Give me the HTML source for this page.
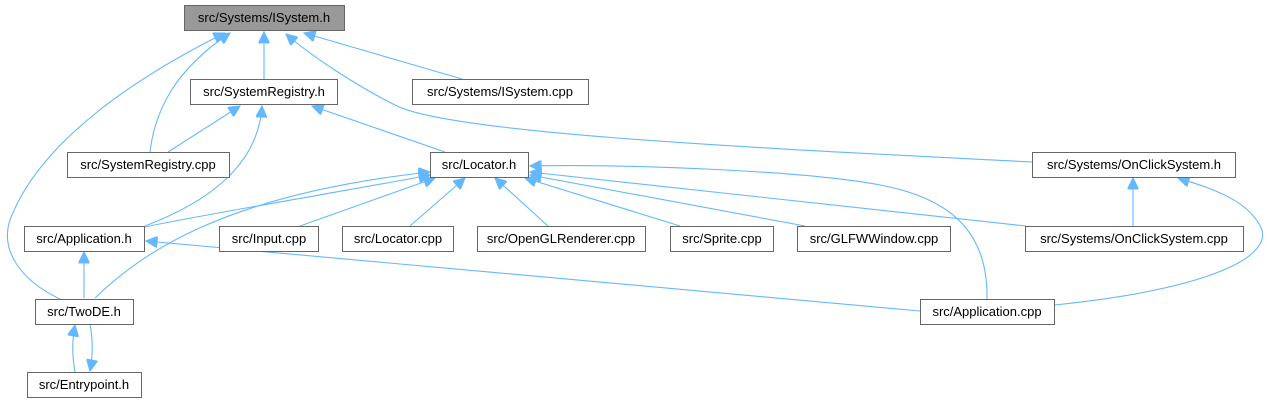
<!DOCTYPE html>
<html><head><meta charset="utf-8"><style>
html,body{margin:0;padding:0;background:#fff;}
svg{display:block;}
text{font-family:"Liberation Sans",Helvetica,sans-serif;font-size:13px;fill:#000;}
</style></head><body>
<svg width="1267" height="403" viewBox="0 0 1267 403" xmlns="http://www.w3.org/2000/svg">
<defs>
<marker id="a" viewBox="0 0 10 10" refX="10" refY="5" markerWidth="13" markerHeight="11" markerUnits="userSpaceOnUse" orient="auto">
<path d="M0,0 L10,5 L0,10 z" fill="#63b8ff" stroke="#63b8ff"/>
</marker>
</defs>
<g fill="none" stroke="#63b8ff" stroke-width="1.1" marker-end="url(#a)">
<path d="M264,79 L264,32"/>
<path d="M462,79 L304,33"/>
<path d="M150,152 C155,110 175,70 230,33"/>
<path d="M60,299 C20,280 0,250 10,220 C40,140 140,75 225,33"/>
<path d="M1032,162 C800,150 450,135 395,105 C355,85 310,55 286,34"/>
<path d="M168,152 L240,106"/>
<path d="M145,226 C200,205 258,170 262,106"/>
<path d="M445,152 L312,106"/>
<path d="M145,227 C200,215 380,185 430,175"/>
<path d="M95,298 C140,255 220,195 430,172"/>
<path d="M300,226 L435,178"/>
<path d="M410,226 L465,178"/>
<path d="M548,226 L495,178"/>
<path d="M680,226 L525,178"/>
<path d="M805,226 L530,175"/>
<path d="M1026,226 L530,172"/>
<path d="M987,299 C988,240 960,200 880,185 C800,170 620,164 530,166"/>
<path d="M84,298 L84,252"/>
<path d="M920,311 L146,241"/>
<path d="M1133,226 L1133,178"/>
<path d="M1054,305 C1200,290 1270,260 1262,230 C1250,200 1210,188 1178,178"/>
<path d="M75,372 C72,355 72,342 75,325"/>
<path d="M90,324 C93,340 93,355 90,371"/>
</g>
<g stroke="#666" stroke-width="1" fill="#fff">
<rect x="184.5" y="5.5" width="160" height="25" fill="#999"/>
<rect x="190.5" y="79.5" width="147" height="25"/>
<rect x="412.5" y="79.5" width="176" height="25"/>
<rect x="67.5" y="152.5" width="162" height="25"/>
<rect x="430.5" y="152.5" width="98" height="25"/>
<rect x="1032.5" y="152.5" width="203" height="25"/>
<rect x="24.5" y="226.5" width="120" height="25"/>
<rect x="219.5" y="226.5" width="99" height="25"/>
<rect x="342.5" y="226.5" width="111" height="25"/>
<rect x="477.5" y="226.5" width="168" height="25"/>
<rect x="670.5" y="226.5" width="103" height="25"/>
<rect x="797.5" y="226.5" width="153" height="25"/>
<rect x="1025.5" y="226.5" width="218" height="25"/>
<rect x="35.5" y="299.5" width="98" height="25"/>
<rect x="920.5" y="299.5" width="134" height="25"/>
<rect x="27.5" y="372.5" width="114" height="25"/>
</g>
<g text-anchor="middle">
<text x="264" y="22">src/Systems/ISystem.h</text>
<text x="264" y="96">src/SystemRegistry.h</text>
<text x="500" y="96">src/Systems/ISystem.cpp</text>
<text x="148" y="169">src/SystemRegistry.cpp</text>
<text x="479" y="169">src/Locator.h</text>
<text x="1134" y="169">src/Systems/OnClickSystem.h</text>
<text x="84" y="243">src/Application.h</text>
<text x="269" y="243">src/Input.cpp</text>
<text x="398" y="243">src/Locator.cpp</text>
<text x="561" y="243">src/OpenGLRenderer.cpp</text>
<text x="722" y="243">src/Sprite.cpp</text>
<text x="874" y="243">src/GLFWWindow.cpp</text>
<text x="1134" y="243">src/Systems/OnClickSystem.cpp</text>
<text x="84" y="316">src/TwoDE.h</text>
<text x="987" y="316">src/Application.cpp</text>
<text x="84" y="389">src/Entrypoint.h</text>
</g>
</svg>
</body></html>
